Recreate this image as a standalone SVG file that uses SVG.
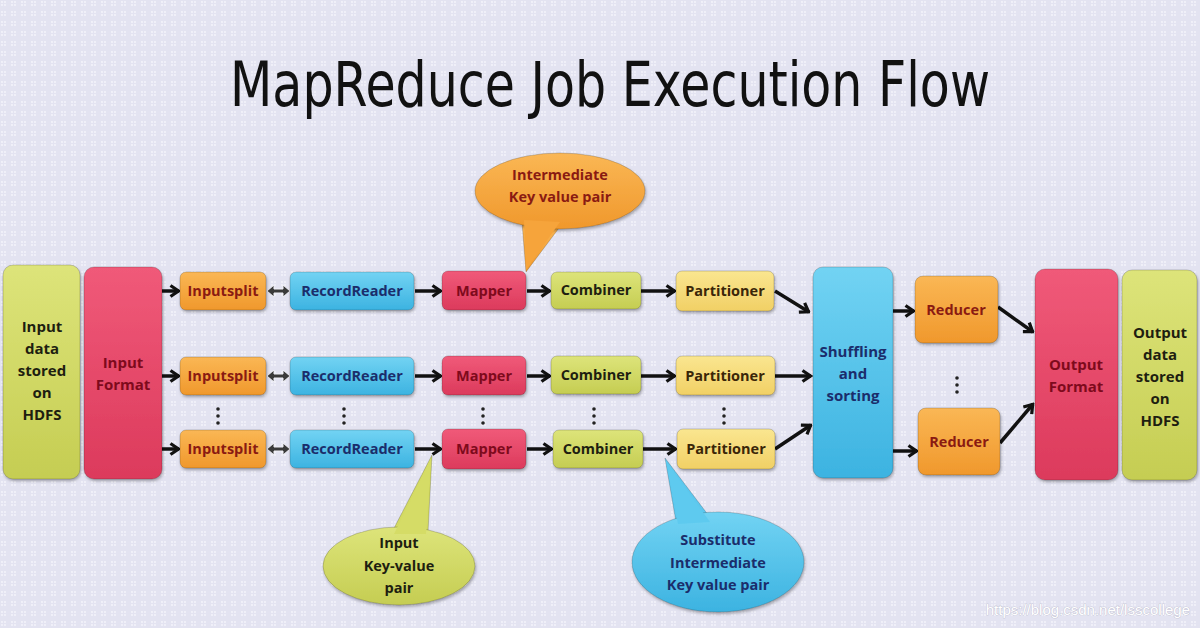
<svg xmlns="http://www.w3.org/2000/svg" width="1200" height="628" viewBox="0 0 1200 628">
<defs>
<pattern id="dots" width="10" height="10" patternUnits="userSpaceOnUse">
<rect width="10" height="10" fill="#e3e3f1"/>
<circle cx="2" cy="2" r="0.9" fill="#f6f6fc"/>
<circle cx="5" cy="2" r="0.9" fill="#f6f6fc"/>
<circle cx="2" cy="5" r="0.9" fill="#f6f6fc"/>
<circle cx="5" cy="5" r="0.9" fill="#f6f6fc"/>
</pattern>
<linearGradient id="gYg" x1="0" y1="0" x2="0" y2="1"><stop offset="0" stop-color="#dde47a"/><stop offset="1" stop-color="#c5cd52"/></linearGradient>
<linearGradient id="gRed" x1="0" y1="0" x2="0" y2="1"><stop offset="0" stop-color="#f05a79"/><stop offset="1" stop-color="#dc3a5c"/></linearGradient>
<linearGradient id="gOr" x1="0" y1="0" x2="0" y2="1"><stop offset="0" stop-color="#fab755"/><stop offset="1" stop-color="#f0982c"/></linearGradient>
<linearGradient id="gBl" x1="0" y1="0" x2="0" y2="1"><stop offset="0" stop-color="#72d3f3"/><stop offset="1" stop-color="#3cb3e1"/></linearGradient>
<linearGradient id="gYe" x1="0" y1="0" x2="0" y2="1"><stop offset="0" stop-color="#fae690"/><stop offset="1" stop-color="#f1d065"/></linearGradient>
<filter id="sh" x="-20%" y="-20%" width="140%" height="140%"><feDropShadow dx="1" dy="2" stdDeviation="1.5" flood-color="#000" flood-opacity="0.3"/></filter>
<marker id="ah" viewBox="0 0 12 14" refX="10.5" refY="7" markerWidth="12" markerHeight="14" markerUnits="userSpaceOnUse" orient="auto">
<path d="M2,1.5 L10,7 L2,12.5" fill="none" stroke="#111" stroke-width="3.2" stroke-linejoin="miter"/>
</marker>
<style>
.box{filter:url(#sh);stroke:rgba(0,0,0,0.18);stroke-width:1}
.t{font-family:"Open Sans","Noto Sans","DejaVu Sans",sans-serif;font-weight:700;font-size:14.5px;text-anchor:middle}
.big{font-size:15px}
.dr{fill:#8a1a12}
.nv{fill:#1b2d6b}
.bk{fill:#1e1e10}
.ar{stroke:#111;stroke-width:3.5;fill:none;marker-end:url(#ah)}
.dbl{fill:#3a3a3a;stroke:#f0f0f6;stroke-width:1}
.dot{fill:#222}
</style>
</defs>
<rect width="1200" height="628" fill="url(#dots)"/>
<text x="610" y="106" font-family="'DejaVu Sans','Liberation Sans',sans-serif" font-size="62" font-weight="normal" fill="#111" text-anchor="middle" textLength="760" lengthAdjust="spacingAndGlyphs">MapReduce Job Execution Flow</text>

<g id="connectors">
<line class="ar" x1="162" y1="291" x2="179" y2="291"/>
<line class="ar" x1="162" y1="376" x2="179" y2="376"/>
<line class="ar" x1="162" y1="449" x2="179" y2="449"/>
<path class="dbl" d="M267,291 L274,285 L274,289 L283,289 L283,285 L290,291 L283,297 L283,293 L274,293 L274,297 Z"/>
<path class="dbl" d="M267,376 L274,370 L274,374 L283,374 L283,370 L290,376 L283,382 L283,378 L274,378 L274,382 Z"/>
<path class="dbl" d="M267,449 L274,443 L274,447 L283,447 L283,443 L290,449 L283,455 L283,451 L274,451 L274,455 Z"/>
<line class="ar" x1="415" y1="291" x2="441" y2="291"/>
<line class="ar" x1="415" y1="376" x2="441" y2="376"/>
<line class="ar" x1="415" y1="449" x2="441" y2="449"/>
<line class="ar" x1="527" y1="291" x2="550" y2="291"/>
<line class="ar" x1="527" y1="376" x2="550" y2="376"/>
<line class="ar" x1="527" y1="449" x2="552" y2="449"/>
<line class="ar" x1="641" y1="291" x2="675" y2="291"/>
<line class="ar" x1="641" y1="376" x2="675" y2="376"/>
<line class="ar" x1="643" y1="449" x2="676" y2="449"/>
<line class="ar" x1="775" y1="291" x2="809" y2="312"/>
<line class="ar" x1="775" y1="376" x2="811" y2="376"/>
<line class="ar" x1="775" y1="449" x2="811" y2="425"/>
<line class="ar" x1="893" y1="311" x2="914" y2="311"/>
<line class="ar" x1="893" y1="451" x2="917" y2="451"/>
<line class="ar" x1="998" y1="307" x2="1033" y2="332"/>
<line class="ar" x1="1000" y1="443" x2="1033" y2="404"/>
</g>

<g id="input-data">
<rect class="box" x="3" y="265" width="77" height="214" rx="10" fill="url(#gYg)"/>
<text class="t big bk"><tspan x="42" y="332">Input</tspan><tspan x="42" y="354">data</tspan><tspan x="42" y="376">stored</tspan><tspan x="42" y="398">on</tspan><tspan x="42" y="420">HDFS</tspan></text>
</g>
<g id="input-format">
<rect class="box" x="84" y="267" width="78" height="212" rx="10" fill="url(#gRed)"/>
<text class="t big" fill="#7e0a1c"><tspan x="123" y="368">Input</tspan><tspan x="123" y="390">Format</tspan></text>
</g>

<g id="inputsplit-1"><rect class="box" x="180" y="272" width="86" height="38" rx="6" fill="url(#gOr)"/><text class="t dr" x="223" y="296">Inputsplit</text></g>
<g id="inputsplit-2"><rect class="box" x="180" y="357" width="86" height="38" rx="6" fill="url(#gOr)"/><text class="t dr" x="223" y="381">Inputsplit</text></g>
<g id="inputsplit-3"><rect class="box" x="180" y="430" width="86" height="38" rx="6" fill="url(#gOr)"/><text class="t dr" x="223" y="454">Inputsplit</text></g>

<g id="recordreader-1"><rect class="box" x="290" y="272" width="124" height="38" rx="6" fill="url(#gBl)"/><text class="t nv" x="352" y="296">RecordReader</text></g>
<g id="recordreader-2"><rect class="box" x="290" y="357" width="124" height="38" rx="6" fill="url(#gBl)"/><text class="t nv" x="352" y="381">RecordReader</text></g>
<g id="recordreader-3"><rect class="box" x="290" y="430" width="124" height="38" rx="6" fill="url(#gBl)"/><text class="t nv" x="352" y="454">RecordReader</text></g>

<g id="mapper-1"><rect class="box" x="442" y="271" width="84" height="39" rx="6" fill="url(#gRed)"/><text class="t" fill="#7e0a1c" x="484" y="296">Mapper</text></g>
<g id="mapper-2"><rect class="box" x="442" y="356" width="84" height="39" rx="6" fill="url(#gRed)"/><text class="t" fill="#7e0a1c" x="484" y="381">Mapper</text></g>
<g id="mapper-3"><rect class="box" x="442" y="429" width="84" height="40" rx="6" fill="url(#gRed)"/><text class="t" fill="#7e0a1c" x="484" y="454">Mapper</text></g>

<g id="combiner-1"><rect class="box" x="551" y="272" width="90" height="37" rx="6" fill="url(#gYg)"/><text class="t bk" x="596" y="295">Combiner</text></g>
<g id="combiner-2"><rect class="box" x="551" y="356" width="90" height="38" rx="6" fill="url(#gYg)"/><text class="t bk" x="596" y="380">Combiner</text></g>
<g id="combiner-3"><rect class="box" x="553" y="430" width="90" height="38" rx="6" fill="url(#gYg)"/><text class="t bk" x="598" y="454">Combiner</text></g>

<g id="partitioner-1"><rect class="box" x="676" y="271" width="98" height="40" rx="6" fill="url(#gYe)"/><text class="t" fill="#3a2608" x="725" y="296">Partitioner</text></g>
<g id="partitioner-2"><rect class="box" x="676" y="356" width="99" height="39" rx="6" fill="url(#gYe)"/><text class="t" fill="#3a2608" x="725" y="381">Partitioner</text></g>
<g id="partitioner-3"><rect class="box" x="677" y="429" width="98" height="40" rx="6" fill="url(#gYe)"/><text class="t" fill="#3a2608" x="726" y="454">Partitioner</text></g>

<g id="dots">
<circle class="dot" cx="218" cy="409" r="1.8"/><circle class="dot" cx="218" cy="416" r="1.8"/><circle class="dot" cx="218" cy="423" r="1.8"/>
<circle class="dot" cx="344" cy="409" r="1.8"/><circle class="dot" cx="344" cy="416" r="1.8"/><circle class="dot" cx="344" cy="423" r="1.8"/>
<circle class="dot" cx="483" cy="409" r="1.8"/><circle class="dot" cx="483" cy="416" r="1.8"/><circle class="dot" cx="483" cy="423" r="1.8"/>
<circle class="dot" cx="594" cy="409" r="1.8"/><circle class="dot" cx="594" cy="416" r="1.8"/><circle class="dot" cx="594" cy="423" r="1.8"/>
<circle class="dot" cx="724" cy="409" r="1.8"/><circle class="dot" cx="724" cy="416" r="1.8"/><circle class="dot" cx="724" cy="423" r="1.8"/>
<circle class="dot" cx="957" cy="378" r="1.8"/><circle class="dot" cx="957" cy="385" r="1.8"/><circle class="dot" cx="957" cy="392" r="1.8"/>
</g>

<g id="shuffling">
<rect class="box" x="813" y="267" width="80" height="211" rx="10" fill="url(#gBl)"/>
<text class="t big nv"><tspan x="853" y="357">Shuffling</tspan><tspan x="853" y="379">and</tspan><tspan x="853" y="401">sorting</tspan></text>
</g>
<g id="reducer-1"><rect class="box" x="915" y="276" width="83" height="67" rx="8" fill="url(#gOr)"/><text class="t dr" x="956" y="315">Reducer</text></g>
<g id="reducer-2"><rect class="box" x="918" y="408" width="82" height="67" rx="8" fill="url(#gOr)"/><text class="t dr" x="959" y="447">Reducer</text></g>

<g id="output-format">
<rect class="box" x="1035" y="269" width="83" height="211" rx="10" fill="url(#gRed)"/>
<text class="t big" fill="#7e0a1c"><tspan x="1076" y="370">Output</tspan><tspan x="1076" y="392">Format</tspan></text>
</g>
<g id="output-data">
<rect class="box" x="1122" y="270" width="75" height="210" rx="10" fill="url(#gYg)"/>
<text class="t big bk"><tspan x="1160" y="338">Output</tspan><tspan x="1160" y="360">data</tspan><tspan x="1160" y="382">stored</tspan><tspan x="1160" y="404">on</tspan><tspan x="1160" y="426">HDFS</tspan></text>
</g>

<g id="callout-intermediate">
<polygon points="522,222 562,224 526,272" fill="url(#gOr)" stroke="rgba(0,0,0,0.18)"/>
<ellipse cx="560" cy="191" rx="85" ry="38" fill="url(#gOr)" stroke="rgba(0,0,0,0.18)" filter="url(#sh)"/>
<polygon points="524,220 560,222 526,270" fill="#f6a43b"/>
<text class="t dr"><tspan x="560" y="180">Intermediate</tspan><tspan x="560" y="202">Key value pair</tspan></text>
</g>
<g id="callout-input-kv">
<polygon points="392,532 428,532 432,455" fill="#d3da62" stroke="rgba(0,0,0,0.18)"/>
<ellipse cx="399" cy="566" rx="76" ry="39" fill="url(#gYg)" stroke="rgba(0,0,0,0.18)" filter="url(#sh)"/>
<polygon points="394,534 426,534 431,458" fill="#d5dc66"/>
<text class="t bk"><tspan x="399" y="548">Input</tspan><tspan x="399" y="571">Key-value</tspan><tspan x="399" y="593">pair</tspan></text>
</g>
<g id="callout-substitute">
<polygon points="676,522 712,520 665,458" fill="#5cc7ee" stroke="rgba(0,0,0,0.18)"/>
<ellipse cx="718" cy="562" rx="86" ry="50" fill="url(#gBl)" stroke="rgba(0,0,0,0.18)" filter="url(#sh)"/>
<polygon points="678,524 710,522 666,461" fill="#5ecaef"/>
<text class="t nv"><tspan x="718" y="545">Substitute</tspan><tspan x="718" y="568">Intermediate</tspan><tspan x="718" y="590">Key value pair</tspan></text>
</g>

<text x="1190" y="615" font-family="'Liberation Sans',Arial,sans-serif" font-size="15" fill="#ffffff" stroke="#b4b4c6" stroke-width="0.6" paint-order="stroke" text-anchor="end">https://blog.csdn.net/lsscollege</text>
</svg>
